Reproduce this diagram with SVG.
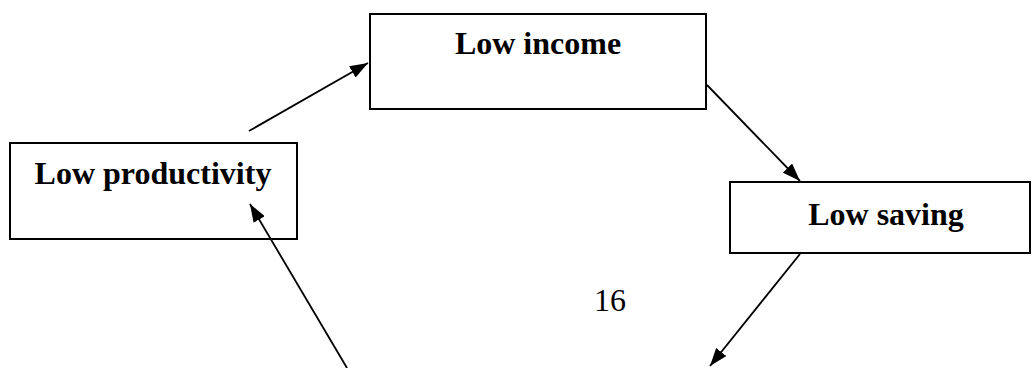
<svg xmlns="http://www.w3.org/2000/svg" width="1032" height="368" viewBox="0 0 1032 368">
<style>
.box{fill:#fff;stroke:#000;stroke-width:2}
.lbl{font-family:"Liberation Serif","Times New Roman",serif;font-weight:bold;font-size:32px;fill:#000;text-anchor:middle}
.num{font-family:"Liberation Serif","Times New Roman",serif;font-size:32px;fill:#000;text-anchor:middle}
.conn{stroke:#000;stroke-width:1.8;fill:none;marker-end:url(#ah)}
</style>
<defs>
<marker id="ah" markerUnits="userSpaceOnUse" viewBox="0 0 18 13" refX="18" refY="6.5" markerWidth="18" markerHeight="13" orient="auto">
<path d="M0,0 L18,6.5 L0,13 z" fill="#000"/>
</marker>
</defs>
<rect width="1032" height="368" fill="#fff"/>
<g id="low-income">
<rect class="box" x="370" y="14" width="336" height="95"/>
<text class="lbl" x="538" y="54">Low income</text>
</g>
<g id="low-productivity">
<rect class="box" x="10" y="143" width="287" height="96"/>
<text class="lbl" x="153" y="184">Low productivity</text>
</g>
<g id="low-saving">
<rect class="box" x="730" y="182" width="300" height="71"/>
<text class="lbl" x="886" y="225">Low saving</text>
</g>
<g id="page-number">
<text class="num" x="610" y="311">16</text>
</g>
<g id="connectors">
<line class="conn" x1="249" y1="131" x2="368" y2="63"/>
<line class="conn" x1="707" y1="85" x2="800" y2="181"/>
<line class="conn" x1="800" y1="254" x2="710" y2="366"/>
<line class="conn" x1="347" y1="368" x2="250" y2="204"/>
</g>
</svg>
